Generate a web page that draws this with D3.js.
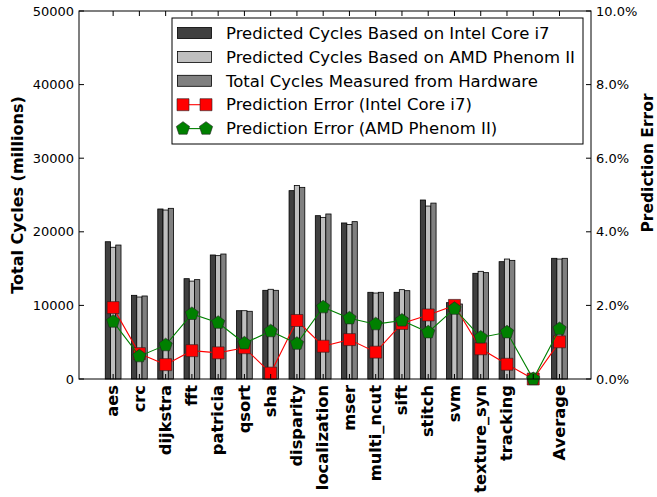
<!DOCTYPE html>
<html>
<head>
<meta charset="utf-8">
<script src="https://cdn.jsdelivr.net/npm/d3@7"></script>
<style>
  body { margin: 0; background: #fff; }
  svg { font-family: "DejaVu Sans", sans-serif; }
</style>
</head>
<body>
<div id="chart"></div>
<script>
// benchmarks (an empty slot sits before "Average")
let categories = ["aes", "crc", "dijkstra", "fft", "patricia", "qsort", "sha", "disparity",
  "localization", "mser", "multi_ncut", "sift", "stitch", "svm", "texture_syn", "tracking", "", "Average"];

// total cycles in millions
let intelCycles = [18650, 11370, 23100, 13630, 16850, 9280, 12050, 25590, 22190, 21200, 11780, 11780, 24320, 10370, 14360, 15940, null, 16400];
let amdCycles = [17900, 11140, 22960, 13300, 16760, 9280, 12190, 26300, 21960, 21000, 11680, 12140, 23500, 10300, 14630, 16300, null, 16300];
let hwCycles = [18200, 11280, 23190, 13500, 16980, 9200, 12050, 26040, 22420, 21380, 11780, 12000, 23900, 10190, 14450, 16120, null, 16400];

// prediction error (fraction)
let intelError = [0.0194, 0.0069, 0.0039, 0.0077, 0.0071, 0.0085, 0.0016, 0.0159, 0.0089, 0.0107, 0.0073, 0.0151, 0.0174, 0.0200, 0.0082, 0.0040, 0, 0.0101];
let amdError = [0.0156, 0.0062, 0.0092, 0.0177, 0.0153, 0.0097, 0.0130, 0.0096, 0.0195, 0.0165, 0.0149, 0.0159, 0.0127, 0.0191, 0.0113, 0.0127, 0, 0.0136];

let leftTicks = [0, 10000, 20000, 30000, 40000, 50000];
let rightTicks = [0, 0.02, 0.04, 0.06, 0.08, 0.10];

let barSeries = [
  { name: "Predicted Cycles Based on Intel Core i7", values: intelCycles, color: "#404040" },
  { name: "Predicted Cycles Based on AMD Phenom II", values: amdCycles, color: "#bfbfbf" },
  { name: "Total Cycles Measured from Hardware", values: hwCycles, color: "#808080" }
];
let lineSeries = [
  { name: "Prediction Error (Intel Core i7)", values: intelError, color: "#ff0000", marker: "square" },
  { name: "Prediction Error (AMD Phenom II)", values: amdError, color: "#008000", marker: "pentagon" }
];

let width = 657, height = 497;
let margin = { top: 11, right: 66, bottom: 118, left: 79 };
let plotW = width - margin.left - margin.right,
  plotH = height - margin.top - margin.bottom;

let svg = d3.select("#chart").append("svg")
  .attr("width", width)
  .attr("height", height);

svg.append("rect").attr("width", width).attr("height", height).attr("fill", "#fff");

let g = svg.append("g").attr("transform", "translate(" + margin.left + "," + margin.top + ")");

let x = d3.scaleLinear().domain([-1.3, 18.2]).range([0, plotW]);
let yL = d3.scaleLinear().domain([0, 50000]).range([plotH, 0]);
let yR = d3.scaleLinear().domain([0, 0.10]).range([plotH, 0]);

let barW = 0.2;

// bars
barSeries.forEach((s, k) => {
  g.selectAll(".bar" + k)
    .data(s.values.map((v, i) => ({ v: v, i: i })).filter(d => d.v != null))
    .enter().append("rect")
    .attr("x", d => x(d.i + (k - 1.5) * barW))
    .attr("width", x(barW) - x(0))
    .attr("y", d => yL(d.v))
    .attr("height", d => plotH - yL(d.v))
    .attr("fill", s.color)
    .attr("stroke", "#000")
    .attr("stroke-width", 0.8);
});

let markerPath = function (type, size) {
  if (type == "square") {
    return d3.symbol().type(d3.symbolSquare).size(size * size)();
  }
  let r = size * 0.58;
  let pts = d3.range(5).map(j => {
    let a = -Math.PI / 2 + j * 2 * Math.PI / 5;
    return [r * Math.cos(a), r * Math.sin(a)];
  });
  return "M" + pts.join("L") + "Z";
};

// error lines
lineSeries.forEach((s) => {
  let line = d3.line().x((d, i) => x(i)).y(d => yR(d));
  g.append("path")
    .datum(s.values)
    .attr("d", line)
    .attr("fill", "none")
    .attr("stroke", s.color)
    .attr("stroke-width", 1.1);
  g.selectAll(".m-" + s.marker)
    .data(s.values)
    .enter().append("path")
    .attr("transform", (d, i) => "translate(" + x(i) + "," + yR(d) + ")")
    .attr("d", markerPath(s.marker, 12))
    .attr("fill", s.color)
    .attr("stroke", "#222")
    .attr("stroke-width", 0.6);
});

// frame
g.append("rect")
  .attr("width", plotW).attr("height", plotH)
  .attr("fill", "none").attr("stroke", "#000").attr("stroke-width", 1);

// axes (ticks point inward, like the original)
let tickLen = 5;
let leftAxis = g.append("g").call(d3.axisLeft(yL).tickValues(leftTicks).tickSize(0).tickPadding(5).tickFormat(d3.format("d")));
let rightAxis = g.append("g").attr("transform", "translate(" + plotW + ",0)")
  .call(d3.axisRight(yR).tickValues(rightTicks).tickSize(0).tickPadding(5).tickFormat(d3.format(".1%")));
[leftAxis, rightAxis].forEach(a => {
  a.select(".domain").remove();
  a.selectAll("text").attr("font-size", "13px").attr("fill", "#000")
    .attr("font-family", "DejaVu Sans");
});

leftTicks.forEach(t => {
  g.append("line").attr("x1", 0).attr("x2", tickLen).attr("y1", yL(t)).attr("y2", yL(t)).attr("stroke", "#000");
});
rightTicks.forEach(t => {
  g.append("line").attr("x1", plotW).attr("x2", plotW - tickLen).attr("y1", yR(t)).attr("y2", yR(t)).attr("stroke", "#000");
});
categories.forEach((c, i) => {
  g.append("line").attr("x1", x(i)).attr("x2", x(i)).attr("y1", 0).attr("y2", tickLen).attr("stroke", "#000");
  g.append("line").attr("x1", x(i)).attr("x2", x(i)).attr("y1", plotH).attr("y2", plotH - tickLen).attr("stroke", "#000");
});

// category labels
g.selectAll(".xlabel")
  .data(categories)
  .enter().append("text")
  .attr("transform", (d, i) => "translate(" + (x(i) - 0.5) + "," + (plotH + 6) + ") rotate(-90)")
  .attr("text-anchor", "end")
  .attr("dy", "0.35em")
  .attr("font-size", "16.3px")
  .attr("font-weight", "bold")
  .text(d => d);

// axis titles
svg.append("text")
  .attr("transform", "translate(17," + (margin.top + plotH / 2) + ") rotate(-90)")
  .attr("text-anchor", "middle")
  .attr("dy", "0.35em")
  .attr("font-size", "16px")
  .attr("font-weight", "bold")
  .text("Total Cycles (millions)");

svg.append("text")
  .attr("transform", "translate(648,163) rotate(-90)")
  .attr("text-anchor", "middle")
  .attr("dy", "0.35em")
  .attr("font-size", "15.5px")
  .attr("font-weight", "bold")
  .text("Prediction Error");

// legend
let legend = svg.append("g").attr("transform", "translate(172,18)");
legend.append("rect")
  .attr("width", 411).attr("height", 126)
  .attr("fill", "#fff").attr("stroke", "#000").attr("stroke-width", 1);

let rowY = d => 15 + d * 23.9;
barSeries.forEach((s, k) => {
  legend.append("rect")
    .attr("x", 5.5).attr("y", rowY(k) - 5.5)
    .attr("width", 34).attr("height", 11)
    .attr("fill", s.color).attr("stroke", "#000").attr("stroke-width", 0.8);
  legend.append("text")
    .attr("x", 54).attr("y", rowY(k)).attr("dy", "0.35em")
    .attr("font-size", "16.5px").text(s.name);
});
lineSeries.forEach((s, j) => {
  let k = j + 3;
  legend.append("line")
    .attr("x1", 11).attr("x2", 34).attr("y1", rowY(k)).attr("y2", rowY(k))
    .attr("stroke", s.color).attr("stroke-width", 1.1);
  [11, 34].forEach(mx => {
    legend.append("path")
      .attr("transform", "translate(" + mx + "," + rowY(k) + ")")
      .attr("d", markerPath(s.marker, 12))
      .attr("fill", s.color).attr("stroke", "#222").attr("stroke-width", 0.6);
  });
  legend.append("text")
    .attr("x", 54).attr("y", rowY(k)).attr("dy", "0.35em")
    .attr("font-size", "16.5px").text(s.name);
});
</script>
</body>
</html>
